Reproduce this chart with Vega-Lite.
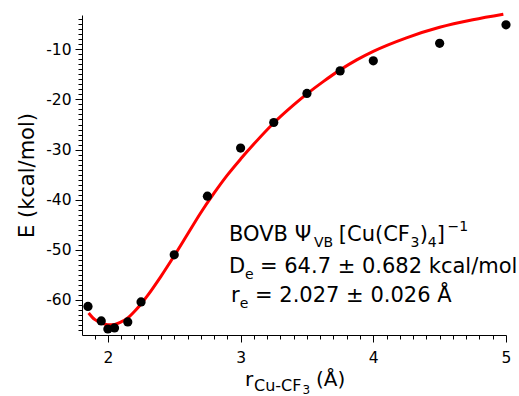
{
  "$schema": "https://vega.github.io/schema/vega-lite/v6.json",
  "width": 424,
  "height": 320,
  "autosize": {"type": "none"},
  "padding": {"left": 82, "top": 15, "right": 13, "bottom": 61},
  "background": "white",
  "config": {
    "view": {"stroke": null},
    "font": "DejaVu Sans",
    "axis": {
      "grid": false,
      "domainColor": "black",
      "domainWidth": 1,
      "tickColor": "black",
      "tickWidth": 1,
      "labelColor": "black",
      "labelFont": "DejaVu Sans",
      "labelFontSize": 15.5,
      "labelOverlap": false,
      "labelFlush": false,
      "titleFont": "DejaVu Sans",
      "titleColor": "black",
      "titleFontWeight": "normal"
    }
  },
  "datasets": {
    "points": [
      {"r": 1.85, "E": -61.3},
      {"r": 1.95, "E": -64.2},
      {"r": 2.0, "E": -65.8},
      {"r": 2.05, "E": -65.6},
      {"r": 2.15, "E": -64.4},
      {"r": 2.25, "E": -60.4},
      {"r": 2.5, "E": -51.0},
      {"r": 2.75, "E": -39.3},
      {"r": 3.0, "E": -29.7},
      {"r": 3.25, "E": -24.6},
      {"r": 3.5, "E": -18.8},
      {"r": 3.75, "E": -14.3},
      {"r": 4.0, "E": -12.3},
      {"r": 4.5, "E": -8.8},
      {"r": 5.0, "E": -5.1}
    ],
    "curve": [
      {"r": 1.855, "E": -62.6},
      {"r": 1.9, "E": -63.9},
      {"r": 1.95, "E": -64.6},
      {"r": 2.0, "E": -64.95},
      {"r": 2.05, "E": -64.9},
      {"r": 2.1, "E": -64.4},
      {"r": 2.15, "E": -63.6},
      {"r": 2.2, "E": -62.3},
      {"r": 2.25, "E": -60.8},
      {"r": 2.3, "E": -59.1},
      {"r": 2.4, "E": -55.3},
      {"r": 2.5, "E": -51.2},
      {"r": 2.6, "E": -46.9},
      {"r": 2.7, "E": -42.6},
      {"r": 2.8, "E": -38.7},
      {"r": 2.9, "E": -35.1},
      {"r": 3.0, "E": -31.9},
      {"r": 3.1, "E": -28.9},
      {"r": 3.25, "E": -24.7},
      {"r": 3.4, "E": -21.1},
      {"r": 3.5, "E": -18.9},
      {"r": 3.625, "E": -16.4},
      {"r": 3.75, "E": -14.1},
      {"r": 3.875, "E": -12.1},
      {"r": 4.0, "E": -10.4},
      {"r": 4.25, "E": -7.7},
      {"r": 4.5, "E": -5.6},
      {"r": 4.75, "E": -4.1},
      {"r": 4.98, "E": -3.0}
    ]
  },
  "layer": [
    {
      "data": {"name": "curve"},
      "mark": {"type": "line", "color": "#ff0000", "strokeWidth": 3, "interpolate": "monotone"},
      "encoding": {
        "x": {
          "field": "r", "type": "quantitative",
          "scale": {"domain": [1.805, 5.0], "nice": false, "zero": false},
          "axis": {
            "title": null,
            "tickCount": 1000,
            "values": [1.9,2.0,2.1,2.2,2.3,2.4,2.5,2.6,2.7,2.8,2.9,3.0,3.1,3.2,3.3,3.4,3.5,3.6,3.7,3.8,3.9,4.0,4.1,4.2,4.3,4.4,4.5,4.6,4.7,4.8,4.9,5.0],
            "labelExpr": "abs(datum.value - round(datum.value)) < 0.001 ? toString(round(datum.value)) : ''",
            "tickSize": {"condition": {"test": "abs(datum.value - round(datum.value)) < 0.001", "value": 7}, "value": 4},
            "labelOverlap": false,
            "labelBound": false,
            "labelFlush": false,
            "labelPadding": 8
          }
        },
        "y": {
          "field": "E", "type": "quantitative",
          "scale": {"domain": [-67, -3.15], "nice": false, "zero": false},
          "axis": {
            "title": "E (kcal/mol)",
            "titleFontSize": 21,
            "titlePadding": 8,
            "tickCount": 1000,
            "values": [-66,-65,-64,-63,-62,-61,-60,-59,-58,-57,-56,-55,-54,-53,-52,-51,-50,-49,-48,-47,-46,-45,-44,-43,-42,-41,-40,-39,-38,-37,-36,-35,-34,-33,-32,-31,-30,-29,-28,-27,-26,-25,-24,-23,-22,-21,-20,-19,-18,-17,-16,-15,-14,-13,-12,-11,-10,-9,-8,-7,-6,-5,-4],
            "labelExpr": "datum.value % 10 === 0 ? toString(datum.value) : ''",
            "tickSize": {"condition": {"test": "datum.value % 10 === 0", "value": 7}, "value": 4},
            "labelOverlap": false,
            "labelBound": false,
            "labelFlush": false,
            "labelPadding": 4
          }
        }
      }
    },
    {
      "data": {"name": "points"},
      "mark": {"type": "circle", "size": 85, "color": "black", "opacity": 1},
      "encoding": {
        "x": {"field": "r", "type": "quantitative"},
        "y": {"field": "E", "type": "quantitative"}
      }
    },
    {"data": {"values": [{}]}, "mark": {"type": "text", "align": "left", "baseline": "alphabetic", "fontSize": 21, "color": "black"},
     "encoding": {"x": {"datum": 2.913, "type": "quantitative"}, "y": {"datum": -48.24, "type": "quantitative"}, "text": {"value": "BOVB Ψ"}}},
    {"data": {"values": [{}]}, "mark": {"type": "text", "align": "left", "baseline": "alphabetic", "fontSize": 14, "color": "black"},
     "encoding": {"x": {"datum": 3.553, "type": "quantitative"}, "y": {"datum": -49.44, "type": "quantitative"}, "text": {"value": "VB"}}},
    {"data": {"values": [{}]}, "mark": {"type": "text", "align": "left", "baseline": "alphabetic", "fontSize": 21, "color": "black"},
     "encoding": {"x": {"datum": 3.74, "type": "quantitative"}, "y": {"datum": -48.24, "type": "quantitative"}, "text": {"value": "[Cu(CF"}}},
    {"data": {"values": [{}]}, "mark": {"type": "text", "align": "left", "baseline": "alphabetic", "fontSize": 14, "color": "black"},
     "encoding": {"x": {"datum": 4.28, "type": "quantitative"}, "y": {"datum": -49.44, "type": "quantitative"}, "text": {"value": "3"}}},
    {"data": {"values": [{}]}, "mark": {"type": "text", "align": "left", "baseline": "alphabetic", "fontSize": 21, "color": "black"},
     "encoding": {"x": {"datum": 4.35, "type": "quantitative"}, "y": {"datum": -48.24, "type": "quantitative"}, "text": {"value": ")"}}},
    {"data": {"values": [{}]}, "mark": {"type": "text", "align": "left", "baseline": "alphabetic", "fontSize": 14, "color": "black"},
     "encoding": {"x": {"datum": 4.41, "type": "quantitative"}, "y": {"datum": -49.44, "type": "quantitative"}, "text": {"value": "4"}}},
    {"data": {"values": [{}]}, "mark": {"type": "text", "align": "left", "baseline": "alphabetic", "fontSize": 21, "color": "black"},
     "encoding": {"x": {"datum": 4.478, "type": "quantitative"}, "y": {"datum": -48.24, "type": "quantitative"}, "text": {"value": "]"}}},
    {"data": {"values": [{}]}, "mark": {"type": "text", "align": "left", "baseline": "alphabetic", "fontSize": 14, "color": "black"},
     "encoding": {"x": {"datum": 4.56, "type": "quantitative"}, "y": {"datum": -46.3, "type": "quantitative"}, "text": {"value": "−1"}}},
    {"data": {"values": [{}]}, "mark": {"type": "text", "align": "left", "baseline": "alphabetic", "fontSize": 21, "color": "black"},
     "encoding": {"x": {"datum": 2.913, "type": "quantitative"}, "y": {"datum": -54.63, "type": "quantitative"}, "text": {"value": "D"}}},
    {"data": {"values": [{}]}, "mark": {"type": "text", "align": "left", "baseline": "alphabetic", "fontSize": 14, "color": "black"},
     "encoding": {"x": {"datum": 3.033, "type": "quantitative"}, "y": {"datum": -55.82, "type": "quantitative"}, "text": {"value": "e"}}},
    {"data": {"values": [{}]}, "mark": {"type": "text", "align": "left", "baseline": "alphabetic", "fontSize": 21, "color": "black"},
     "encoding": {"x": {"datum": 3.146, "type": "quantitative"}, "y": {"datum": -54.63, "type": "quantitative"}, "text": {"value": "= 64.7 ± 0.682 kcal/mol"}}},
    {"data": {"values": [{}]}, "mark": {"type": "text", "align": "left", "baseline": "alphabetic", "fontSize": 21, "color": "black"},
     "encoding": {"x": {"datum": 2.928, "type": "quantitative"}, "y": {"datum": -60.41, "type": "quantitative"}, "text": {"value": "r"}}},
    {"data": {"values": [{}]}, "mark": {"type": "text", "align": "left", "baseline": "alphabetic", "fontSize": 14, "color": "black"},
     "encoding": {"x": {"datum": 2.993, "type": "quantitative"}, "y": {"datum": -61.61, "type": "quantitative"}, "text": {"value": "e"}}},
    {"data": {"values": [{}]}, "mark": {"type": "text", "align": "left", "baseline": "alphabetic", "fontSize": 21, "color": "black"},
     "encoding": {"x": {"datum": 3.109, "type": "quantitative"}, "y": {"datum": -60.41, "type": "quantitative"}, "text": {"value": "= 2.027 ± 0.026 Å"}}},
    {"data": {"values": [{}]}, "mark": {"type": "text", "align": "left", "baseline": "alphabetic", "fontSize": 20, "color": "black"},
     "encoding": {"x": {"datum": 3.033, "type": "quantitative"}, "y": {"datum": -77.17, "type": "quantitative"}, "text": {"value": "r"}}},
    {"data": {"values": [{}]}, "mark": {"type": "text", "align": "left", "baseline": "alphabetic", "fontSize": 16, "color": "black"},
     "encoding": {"x": {"datum": 3.101, "type": "quantitative"}, "y": {"datum": -78.27, "type": "quantitative"}, "text": {"value": "Cu-CF"}}},
    {"data": {"values": [{}]}, "mark": {"type": "text", "align": "left", "baseline": "alphabetic", "fontSize": 12, "color": "black"},
     "encoding": {"x": {"datum": 3.467, "type": "quantitative"}, "y": {"datum": -78.77, "type": "quantitative"}, "text": {"value": "3"}}},
    {"data": {"values": [{}]}, "mark": {"type": "text", "align": "left", "baseline": "alphabetic", "fontSize": 20, "color": "black"},
     "encoding": {"x": {"datum": 3.568, "type": "quantitative"}, "y": {"datum": -77.17, "type": "quantitative"}, "text": {"value": "(Å)"}}}
  ]
}
